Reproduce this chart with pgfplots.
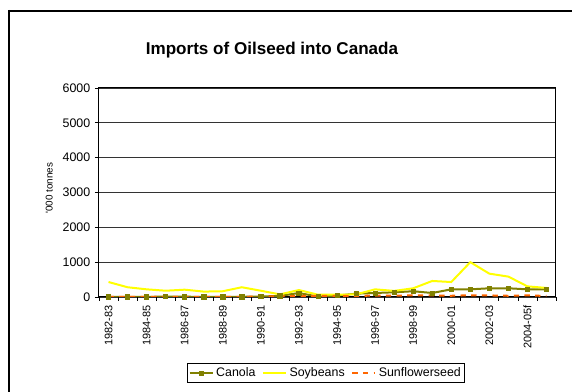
\documentclass[border=0pt]{standalone}
\usepackage{fontspec}
\setmainfont{Liberation Sans}
\usepackage{pgfplots}
\pgfplotsset{compat=1.18}
\definecolor{canola}{HTML}{808000}
\definecolor{soy}{HTML}{FFFF00}
\definecolor{sun}{HTML}{FF6600}
\begin{document}
\begin{tikzpicture}
\path[use as bounding box] (0pt,0pt) rectangle (429pt,294pt);
\draw[line width=1.5pt] (6pt,285.75pt) -- (429pt,285.75pt);
\draw[line width=1.5pt] (6.75pt,286.5pt) -- (6.75pt,0pt);
\node[font=\bfseries\fontsize{12.8}{14}\selectfont] at (204pt,256.5pt) {Imports of Oilseed into Canada};
\begin{axis}[at={(74.25pt,71.25pt)}, anchor=south west, scale only axis,
  width=342.75pt, height=156.75pt,
  xmin=-0.5, xmax=23.5, ymin=0, ymax=6000,
  ytick={0,1000,...,6000},
  ymajorgrids, grid style={black!80, line width=0.6pt},
  xtick={0,2,...,22},
  xticklabels={1982-83,1984-85,1986-87,1988-89,1990-91,1992-93,1994-95,1996-97,1998-99,2000-01,2002-03,2004-05f},
  minor xtick={-0.5,0.5,...,23.5},
  major x tick style={draw=none},
  xtick pos=bottom, ytick pos=left,
  tick align=outside,
  tick style={black, line width=0.6pt},
  major tick length=3pt, minor tick length=3pt,
  axis line style={black, line width=0.75pt},
  xticklabel style={rotate=90, anchor=east, font=\fontsize{8.2}{9}\selectfont},
  yticklabel style={font=\fontsize{9.3}{10}\selectfont},
  /pgf/number format/assume math mode=true,
  /pgf/number format/set thousands separator={},
  ylabel={\textquotesingle 000 tonnes},
  ylabel style={at={(axis description cs:-0.109,0.52)}, anchor=center, font=\fontsize{7.4}{9}\selectfont},
  legend style={at={(0.497,-0.364)}, anchor=center, legend columns=3, draw=black, line width=0.6pt,
    font=\fontsize{9.3}{10}\selectfont, inner sep=1pt,
    /tikz/every even column/.append style={column sep=3pt}},
  legend cell align=left,
]
\addplot[color=canola, line width=1.5pt, mark=square*, mark size=1.6pt, mark options={solid, line width=0.5pt}] coordinates {
(0,5)(1,5)(2,5)(3,10)(4,8)(5,5)(6,5)(7,5)(8,15)(9,30)(10,115)(11,10)(12,40)(13,95)(14,115)(15,135)(16,165)(17,115)(18,220)(19,220)(20,250)(21,250)(22,220)(23,220)};
\addlegendentry{Canola}
\addplot[color=soy, line width=1.5pt, no marks] coordinates {
(0,430)(1,280)(2,220)(3,180)(4,210)(5,155)(6,165)(7,280)(8,180)(9,75)(10,200)(11,65)(12,65)(13,75)(14,220)(15,175)(16,250)(17,460)(18,430)(19,1000)(20,670)(21,585)(22,305)(23,260)};
\addlegendentry{Soybeans}
\addplot[color=sun, line width=1.5pt, no marks, dash pattern=on 4pt off 4pt] coordinates {
(0,5)(1,5)(2,5)(3,5)(4,5)(5,5)(6,5)(7,5)(8,10)(9,20)(10,30)(11,30)(12,30)(13,30)(14,40)(15,40)(16,45)(17,45)(18,35)(19,50)(20,45)(21,35)(22,45)(23,30)};
\addlegendentry{Sunflowerseed}
\end{axis}
\end{tikzpicture}
\end{document}
